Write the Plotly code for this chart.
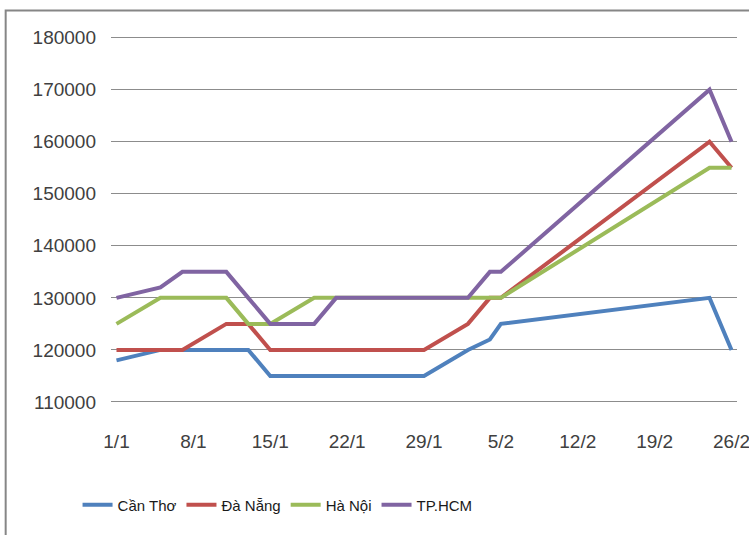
import plotly.graph_objects as go

dates = ["2011-01-01", "2011-01-05", "2011-01-07", "2011-01-11", "2011-01-13",
         "2011-01-15", "2011-01-19", "2011-01-21", "2011-01-29", "2011-02-02",
         "2011-02-04", "2011-02-05", "2011-02-24", "2011-02-26"]

can_tho = [118000, 120000, 120000, 120000, 120000, 115000, 115000, 115000,
           115000, 120000, 122000, 125000, 130000, 120000]
da_nang = [120000, 120000, 120000, 125000, 125000, 120000, 120000, 120000,
           120000, 125000, 130000, 130000, 160000, 155000]
ha_noi = [125000, 130000, 130000, 130000, 125000, 125000, 130000, 130000,
          130000, 130000, 130000, 130000, 155000, 155000]
tp_hcm = [130000, 132000, 135000, 135000, 130000, 125000, 125000, 130000,
          130000, 130000, 135000, 135000, 170000, 160000]

tick_dates = ["2011-01-01", "2011-01-08", "2011-01-15", "2011-01-22", "2011-01-29",
              "2011-02-05", "2011-02-12", "2011-02-19", "2011-02-26"]
tick_labels = ["1/1", "8/1", "15/1", "22/1", "29/1", "5/2", "12/2", "19/2", "26/2"]
y_ticks = [110000, 120000, 130000, 140000, 150000, 160000, 170000, 180000]

series = [
    ("Cần Thơ", can_tho, "#4F81BD"),
    ("Đà Nẵng", da_nang, "#C0504D"),
    ("Hà Nội", ha_noi, "#9BBB59"),
    ("TP.HCM", tp_hcm, "#8064A2"),
]

fig = go.Figure()
for name, vals, color in series:
    fig.add_trace(go.Scatter(x=dates, y=vals, name=name, mode="lines",
                             line=dict(color=color, width=4)))

W, H = 749, 535
ml, mr, mt, mb = 110.5, 11.5, 35.4, 107
pw = W - ml - mr
ph = H - mt - mb

fig.update_layout(
    width=W, height=H,
    margin=dict(l=ml, r=mr, t=mt, b=mb, pad=0),
    paper_bgcolor="white", plot_bgcolor="white",
    font=dict(family="Liberation Sans", size=19, color="#404040"),
    showlegend=True,
    legend=dict(orientation="h", x=(77 - ml) / pw, xanchor="left",
                y=(mt + ph - 505) / ph, yanchor="middle",
                font=dict(family="Liberation Sans", size=15, color="#1a1a1a"),
                itemwidth=30, tracegroupgap=0, bgcolor="rgba(0,0,0,0)"),
    xaxis=dict(type="date", range=["2010-12-31 12:00", "2011-02-26 12:00"],
               tickvals=tick_dates, ticktext=tick_labels,
               showgrid=False, showline=False, zeroline=False, ticks="",
               ticklabelstandoff=0, ticklabeloverflow="allow", automargin=False),
    yaxis=dict(range=[105000, 180500], tickvals=y_ticks, tickformat="d",
               showgrid=True, gridcolor="#8c8c8c", gridwidth=1,
               showline=False, zeroline=False, ticks="",
               ticklabelstandoff=14, automargin=False),
    shapes=[dict(type="rect", xref="paper", yref="paper",
                 x0=(5 - ml) / pw, x1=(765 - ml) / pw,
                 y0=(mt + ph - 550) / ph, y1=(mt + ph - 11) / ph,
                 line=dict(color="#868686", width=2), fillcolor="rgba(0,0,0,0)",
                 layer="below")],
)

fig.write_html("out.html", config={"displayModeBar": False},
               post_script="document.body.style.margin='0';document.body.style.overflow='hidden';")
